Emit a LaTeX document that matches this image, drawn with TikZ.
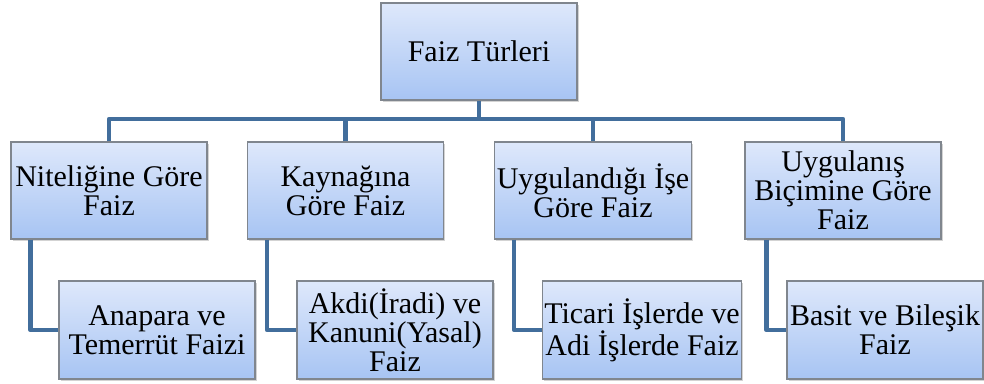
\documentclass[tikz,border=0pt]{standalone}
\usepackage{fontspec}
\setmainfont{Liberation Serif}
\usetikzlibrary{shadows}

\definecolor{boxtop}{RGB}{222,232,251}
\definecolor{boxbot}{RGB}{167,196,243}
\definecolor{boxedge}{RGB}{128,134,142}
\definecolor{linkblue}{RGB}{66,110,156}

\begin{document}
\begin{tikzpicture}[x=1pt,y=-1pt,
  font=\fontsize{30}{29}\selectfont,
  box/.style={draw=boxedge,line width=1.2pt,top color=boxtop,bottom color=boxbot,
    minimum width=#1,align=center,inner sep=2pt,
    drop shadow={shadow xshift=1.5pt,shadow yshift=-1.5pt,opacity=0.35}},
  box/.default=196pt,
  top/.style={box,minimum height=97pt},
  sub/.style={box,minimum height=98pt},
  link/.style={draw=linkblue,line width=4.5pt,line join=round}]

\useasboundingbox (0,0) rectangle (984,383);

% ---------- root ----------
\node[top] (root) at (479,51.5) {Faiz Türleri};

% ---------- level 1 ----------
\node[top]            (nitelik)  at (109,190.5) {Niteliğine Göre\\Faiz};
\node[top]            (kaynak)   at (345.5,190.5) {Kaynağına\\Göre Faiz};
\node[top]            (is)       at (593,190.5) {Uygulandığı İşe\\Göre Faiz};
\node[top=220pt]      (bicim)    at (843,190.5) {Uygulanış\\Biçimine Göre\\Faiz};

% ---------- level 2 ----------
\node[sub] (anapara) at (157,330) {Anapara ve\\Temerrüt Faizi};
\node[sub] (akdi)    at (395,330) {Akdi(İradi) ve\\Kanuni(Yasal)\\Faiz};
\node[sub] (ticari)  at (642,330) {Ticari İşlerde ve\\Adi İşlerde Faiz};
\node[sub] (basit)   at (885,330) {Basit ve Bileşik\\Faiz};

% connectors
\coordinate (bus) at (0,119);
\draw[link] (root.south) -- (root.south |- bus);
\draw[link] (nitelik.north) |- (bus -| bicim.north) -- (bicim.north);
\draw[link] (kaynak.north) -- (kaynak.north |- bus);
\draw[link] (is.north) -- (is.north |- bus);

\draw[link] ([xshift=20pt]nitelik.south west) |- (anapara.west);
\draw[link] ([xshift=20pt]kaynak.south west) |- (akdi.west);
\draw[link] ([xshift=20pt]is.south west) |- (ticari.west);
\draw[link] ([xshift=22pt]bicim.south west) |- (basit.west);
\end{tikzpicture}
\end{document}
